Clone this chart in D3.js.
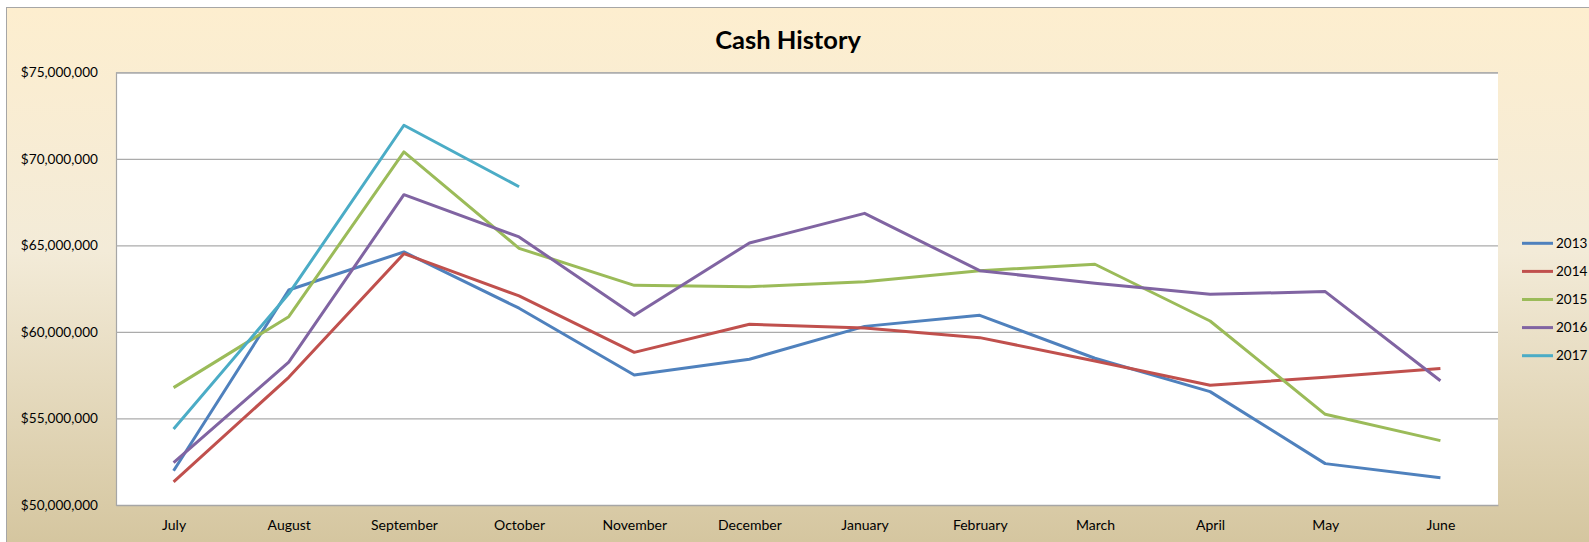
<!DOCTYPE html>
<html>
<head>
<meta charset="utf-8">
<script src="https://cdn.jsdelivr.net/npm/d3@7"></script>
<style>
  html, body { margin: 0; padding: 0; background: #fff; }
  svg { display: block; font-family: Lato, "Open Sans", sans-serif; }
</style>
</head>
<body>
<div id="chart"></div>
<script>
// Months of the fiscal year (July..June)
const months = ["July", "August", "September", "October", "November", "December",
  "January", "February", "March", "April", "May", "June"];

// Cash balance by year, in dollars
const years = ["2013", "2014", "2015", "2016", "2017"];
const cash2013 = [51980000, 62420000, 64620000, 61370000, 57510000, 58420000, 60320000, 60960000, 58480000, 56550000, 52390000, 51580000];
const cash2014 = [51330000, 57380000, 64520000, 62080000, 58820000, 60440000, 60220000, 59670000, 58320000, 56920000, 57380000, 57880000];
const cash2015 = [56780000, 60880000, 70400000, 64830000, 62690000, 62610000, 62900000, 63540000, 63910000, 60630000, 55240000, 53720000];
const cash2016 = [52450000, 58250000, 67930000, 65490000, 60960000, 65140000, 66850000, 63540000, 62810000, 62170000, 62330000, 57180000];
const cash2017 = [54390000, 62200000, 71940000, 68390000];

const yTicks = [50000000, 55000000, 60000000, 65000000, 70000000, 75000000];
const colors = ["#4f81bd", "#c0504d", "#9bbb59", "#8064a2", "#4bacc6"];

const series = years.map((name, i) => ({
  name,
  color: colors[i],
  values: [cash2013, cash2014, cash2015, cash2016, cash2017][i]
}));

const width = 1589, height = 542;
const plot = { left: 116, right: 1498, top: 72.3, bottom: 505 };
const font = "Lato, 'Open Sans', sans-serif";

const svg = d3.select("#chart").append("svg")
  .attr("width", width)
  .attr("height", height);

// Chart area background gradient
const defs = svg.append("defs");
const grad = defs.append("linearGradient")
  .attr("id", "bg")
  .attr("x1", 0).attr("y1", 0).attr("x2", 0).attr("y2", 1);
grad.append("stop").attr("offset", "0%").attr("stop-color", "#fdeecf");
grad.append("stop").attr("offset", "45%").attr("stop-color", "#f3ebd8");
grad.append("stop").attr("offset", "100%").attr("stop-color", "#d4c59e");

svg.append("rect")
  .attr("x", 6.5).attr("y", 7.5)
  .attr("width", width).attr("height", height)
  .attr("fill", "url(#bg)")
  .attr("stroke", "#a6a6a6")
  .attr("stroke-width", 1);

// Plot area
svg.append("rect")
  .attr("x", plot.left).attr("y", plot.top)
  .attr("width", plot.right - plot.left)
  .attr("height", plot.bottom - plot.top)
  .attr("fill", "#fff");

const x = d3.scalePoint()
  .domain(months)
  .range([plot.left, plot.right])
  .padding(0.5);

const y = d3.scaleLinear()
  .domain([50000000, 75000000])
  .range([plot.bottom, plot.top]);

// Y axis with gridlines
const yAxis = svg.append("g")
  .attr("transform", `translate(${plot.left},0)`)
  .call(d3.axisLeft(y)
    .tickValues(yTicks)
    .tickSize(-(plot.right - plot.left))
    .tickPadding(18)
    .tickFormat(d3.format("$,")))
  .attr("font-family", font);
yAxis.select(".domain").attr("stroke", "#a6a6a6").attr("stroke-width", 1.2);
yAxis.selectAll(".tick line").attr("stroke", "#ababab").attr("stroke-width", 1.2);
yAxis.selectAll(".tick text")
  .attr("fill", "#000")
  .style("font-size", "13.6px");

// X axis
const xAxis = svg.append("g")
  .attr("transform", `translate(0,${plot.bottom})`)
  .call(d3.axisBottom(x).tickSize(0))
  .attr("font-family", font);
xAxis.select(".domain").attr("stroke", "#a6a6a6").attr("stroke-width", 1.5);
xAxis.selectAll(".tick text")
  .attr("y", 20)
  .attr("dy", "0.35em")
  .attr("fill", "#000")
  .style("font-size", "14px");

// Lines
const line = d3.line()
  .x((d, i) => x(months[i]))
  .y(d => y(d));

svg.append("g")
  .selectAll("path")
  .data(series)
  .join("path")
  .attr("d", d => line(d.values))
  .attr("fill", "none")
  .attr("stroke", d => d.color)
  .attr("stroke-width", 3)
  .attr("stroke-linejoin", "round");

// Title
svg.append("text")
  .attr("x", 788)
  .attr("y", 49)
  .attr("text-anchor", "middle")
  .style("font-size", "25.5px")
  .style("font-weight", "bold")
  .text("Cash History");

// Legend
const legend = svg.append("g")
  .attr("transform", "translate(1522,243.3)");

series.forEach((s, i) => {
  const row = legend.append("g").attr("transform", `translate(0,${i * 28.1})`);
  row.append("line")
    .attr("x1", 0).attr("x2", 31)
    .attr("stroke", s.color)
    .attr("stroke-width", 3);
  row.append("text")
    .attr("x", 34)
    .attr("dy", "0.35em")
    .style("font-size", "13.5px")
    .text(s.name);
});
</script>
</body>
</html>
